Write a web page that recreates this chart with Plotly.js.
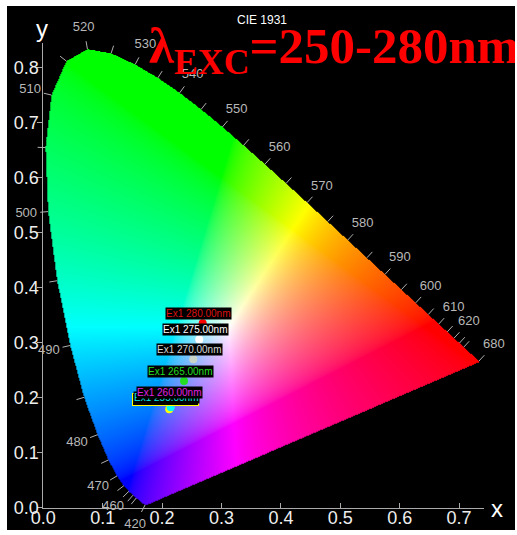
<!DOCTYPE html>
<html><head><meta charset="utf-8">
<script src="https://cdn.plot.ly/plotly-3.0.1.min.js"></script>
<style>html,body{margin:0;padding:0;background:#fff;}#chart{position:absolute;left:7px;top:6px;width:508px;height:524px;}</style>
</head><body><div id="chart"></div>
<script>
// CIE 1931 2° spectral locus (wavelength nm, x, y)
const locusNm = [380,385,390,395,400,405,410,415,420,425,430,435,440,445,450,455,460,465,470,475,480,485,490,495,500,505,510,515,520,525,530,535,540,545,550,555,560,565,570,575,580,585,590,595,600,605,610,615,620,625,630,635,640,645,650,655,660,665,670,675,680,685,690,695,700];
const locusX = [0.1741,0.1740,0.1738,0.1736,0.1733,0.1730,0.1726,0.1721,0.1714,0.1703,0.1689,0.1669,0.1644,0.1611,0.1566,0.1510,0.1440,0.1355,0.1241,0.1096,0.0913,0.0687,0.0454,0.0235,0.0082,0.0039,0.0139,0.0389,0.0743,0.1142,0.1547,0.1929,0.2296,0.2658,0.3016,0.3373,0.3731,0.4087,0.4441,0.4788,0.5125,0.5448,0.5752,0.6029,0.6270,0.6482,0.6658,0.6801,0.6915,0.7006,0.7079,0.7140,0.7190,0.7230,0.7260,0.7283,0.7300,0.7311,0.7320,0.7327,0.7334,0.7340,0.7344,0.7346,0.7347];
const locusY = [0.0050,0.0050,0.0049,0.0049,0.0048,0.0048,0.0048,0.0048,0.0051,0.0058,0.0069,0.0086,0.0109,0.0138,0.0177,0.0227,0.0297,0.0399,0.0578,0.0868,0.1327,0.2007,0.2950,0.4127,0.5384,0.6548,0.7502,0.8120,0.8338,0.8262,0.8059,0.7816,0.7543,0.7243,0.6923,0.6589,0.6245,0.5896,0.5547,0.5202,0.4866,0.4544,0.4242,0.3965,0.3725,0.3514,0.3340,0.3197,0.3083,0.2993,0.2920,0.2859,0.2809,0.2770,0.2740,0.2717,0.2700,0.2689,0.2680,0.2673,0.2666,0.2660,0.2656,0.2654,0.2653];

// wavelength labels and tick marks along the locus
const labelNm = [420,460,470,480,490,500,510,520,530,540,550,560,570,580,590,600,610,620,680];
const tickNm = [420,450,455,460,465,470,475,480,485,490,495,500,505,510,515,520,525,530,535,540,545,550,555,560,565,570,575,580,585,590,595,600,605,610,615,620,625,630,680];

// excitation measurements
const exNames = ["Ex1 250.00nm","Ex1 255.00nm","Ex1 260.00nm","Ex1 265.00nm","Ex1 270.00nm","Ex1 275.00nm","Ex1 280.00nm"];
const exX = [0.212,0.2145,0.2189,0.2369,0.2525,0.2626,0.2683];
const exY = [0.179,0.1825,0.1916,0.2304,0.270,0.306,0.3353];
const exColors = ["#ffff00","#00ffff","#ff00ff","#22dd22","#c8d4c8","#ffffff","#ff0000"];
const exTextColors = ["#ffff00","#00e8e8","#e020e0","#22dd22","#d8d8d8","#ffffff","#dd1111"];

// geometry (px inside the 508x524 chart div)
const DW = 508, DH = 524;
const xMax = 0.742, yMax = 0.845;
const kx = 594, ky = 550;
const plotL = 36.3, plotB = 501.7;
const plotW = xMax*kx, plotH = yMax*ky, plotT = plotB - plotH;

function idx(nm){ return locusNm.indexOf(nm); }
function normalAt(nm){
  const i = idx(nm);
  const a = Math.max(0,i-1), b = Math.min(locusNm.length-1,i+1);
  const dx = (locusX[b]-locusX[a])*kx, dy = (locusY[b]-locusY[a])*ky;
  const L = Math.hypot(dx,dy) || 1;
  return [-dy/L, dx/L];
}

// build gamut image (colour of each chromaticity inside the locus)
function gamutImage(){
  const W = Math.round(plotW), H = Math.round(plotH);
  const c = document.createElement('canvas'); c.width = W; c.height = H;
  const ctx = c.getContext('2d');
  const img = ctx.createImageData(W,H);
  const n = locusX.length;
  function inside(px,py){
    let ins = false;
    for(let i=0,j=n-1;i<n;j=i++){
      const xi=locusX[i], yi=locusY[i], xj=locusX[j], yj=locusY[j];
      if(((yi>py)!==(yj>py)) && (px < (xj-xi)*(py-yi)/(yj-yi)+xi)) ins = !ins;
    }
    return ins;
  }
  const gexp = 1/1.7;
  for(let j=0;j<H;j++){
    const y = yMax - (j+0.5)/H*yMax;
    for(let i=0;i<W;i++){
      const x = (i+0.5)/W*xMax;
      const k = (j*W+i)*4;
      if(y<=0 || !inside(x,y)){ img.data[k+3]=0; continue; }
      const X = x/y, Y = 1, Z = (1-x-y)/y;
      let r = 3.2406*X-1.5372*Y-0.4986*Z;
      let g = -0.9689*X+1.8758*Y+0.0415*Z;
      let b = 0.0557*X-0.2040*Y+1.0570*Z;
      r=Math.max(r,0); g=Math.max(g,0); b=Math.max(b,0);
      const m = Math.max(r,g,b) || 1;
      img.data[k] = Math.round(255*Math.pow(r/m,gexp));
      img.data[k+1] = Math.round(255*Math.pow(g/m,gexp));
      img.data[k+2] = Math.round(255*Math.pow(b/m,gexp));
      img.data[k+3] = 255;
    }
  }
  ctx.putImageData(img,0,0);
  return c.toDataURL('image/png');
}

// tick lines and labels along the locus (drawn on a full-size overlay subplot with the same scale)
const tx = [], ty = [];
tickNm.forEach(nm => {
  const i = idx(nm), [nx,ny] = normalAt(nm);
  tx.push(locusX[i], locusX[i]+nx*8/kx, null);
  ty.push(locusY[i], locusY[i]+ny*8/ky, null);
});
const lx = [], ly = [];
labelNm.forEach(nm => {
  const i = idx(nm), [nx,ny] = normalAt(nm);
  lx.push(locusX[i]+nx*22/kx); ly.push(locusY[i]+ny*22/ky);
});

const traces = [
  {x:exX, y:exY, xaxis:'x', yaxis:'y', mode:'markers', marker:{color:exColors, size:8}, cliponaxis:false, showlegend:false},
  {x:tx, y:ty, xaxis:'x2', yaxis:'y2', mode:'lines', line:{color:'#b0b0b0', width:1}, hoverinfo:'skip', showlegend:false},
  {x:lx, y:ly, xaxis:'x2', yaxis:'y2', mode:'text', text:labelNm.map(String), textfont:{family:'Liberation Sans, Arial', size:13, color:'#b8b8b8'}, cliponaxis:false, hoverinfo:'skip', showlegend:false}
];

const annotations = exNames.map((t,i)=>({
  x:exX[i], y:exY[i], xref:'x', yref:'y', text:t, showarrow:false,
  xanchor:'center', yanchor:'bottom', xshift:-4, yshift:3,
  font:{family:'Liberation Sans, Arial', size:10, color:exTextColors[i]},
  bgcolor:'#000000', bordercolor: i===0 ? '#ffff00' : 'rgba(0,0,0,0)', borderwidth:1, borderpad:0
}));
function px2paperX(sx){ return (sx-7)/DW; }
function px2paperY(sy){ return 1-(sy-6)/DH; }
annotations.push(
  {xref:'paper', yref:'paper', x:px2paperX(42), y:px2paperY(29), text:'y', showarrow:false, xanchor:'center', yanchor:'middle', font:{family:'Liberation Sans, Arial', size:24, color:'#ffffff'}},
  {xref:'paper', yref:'paper', x:px2paperX(497), y:px2paperY(508), text:'x', showarrow:false, xanchor:'center', yanchor:'middle', font:{family:'Liberation Sans, Arial', size:24, color:'#ffffff'}},
  {xref:'paper', yref:'paper', x:px2paperX(262), y:px2paperY(20), text:'CIE 1931', showarrow:false, xanchor:'center', yanchor:'middle', font:{family:'Liberation Sans, Arial', size:12, color:'#ffffff'}},
  {xref:'paper', yref:'paper', x:px2paperX(521), y:px2paperY(84), text:'λ<sub>EXC</sub>=250-280nm', showarrow:false, xanchor:'right', yanchor:'bottom', font:{family:'Liberation Serif, Times New Roman, serif', size:51, color:'#ff0000', weight:'bold'}}
);

const axFont = {family:'Liberation Sans, Arial', size:18, color:'#eeeeee'};
const layout = {
  width:DW, height:DH,
  margin:{l:0, t:0, r:0, b:0},
  paper_bgcolor:'#000000', plot_bgcolor:'rgba(0,0,0,0)',
  showlegend:false,
  xaxis:{domain:[plotL/DW, (plotL+plotW)/DW], anchor:'y', range:[0,xMax], dtick:0.1, tick0:0, tickformat:'.1f',
         ticks:'inside', ticklen:5, tickcolor:'#aaaaaa', ticklabelstandoff:-6,
         showline:true, linecolor:'#aaaaaa', linewidth:1, showgrid:false, zeroline:false, automargin:false, tickfont:axFont},
  yaxis:{domain:[(DH-plotB)/DH, (DH-plotT)/DH], anchor:'x', range:[0,yMax], dtick:0.1, tick0:0, tickformat:'.1f',
         ticks:'outside', ticklen:5, tickcolor:'#aaaaaa', ticklabelstandoff:-5,
         showline:true, linecolor:'#aaaaaa', linewidth:1, showgrid:false, zeroline:false, automargin:false, tickfont:axFont},
  xaxis2:{domain:[0,1], anchor:'y2', range:[-plotL/kx, xMax+(DW-plotL-plotW)/kx], visible:false, fixedrange:true},
  yaxis2:{domain:[0,1], anchor:'x2', range:[-(DH-plotB)/ky, yMax+plotT/ky], visible:false, fixedrange:true},
  images:[{source:gamutImage(), xref:'x', yref:'y', x:0, y:yMax, sizex:xMax, sizey:yMax, sizing:'stretch', xanchor:'left', yanchor:'top', layer:'below'}],
  annotations:annotations
};

Plotly.newPlot('chart', traces, layout, {staticPlot:true, displayModeBar:false});
</script></body></html>
